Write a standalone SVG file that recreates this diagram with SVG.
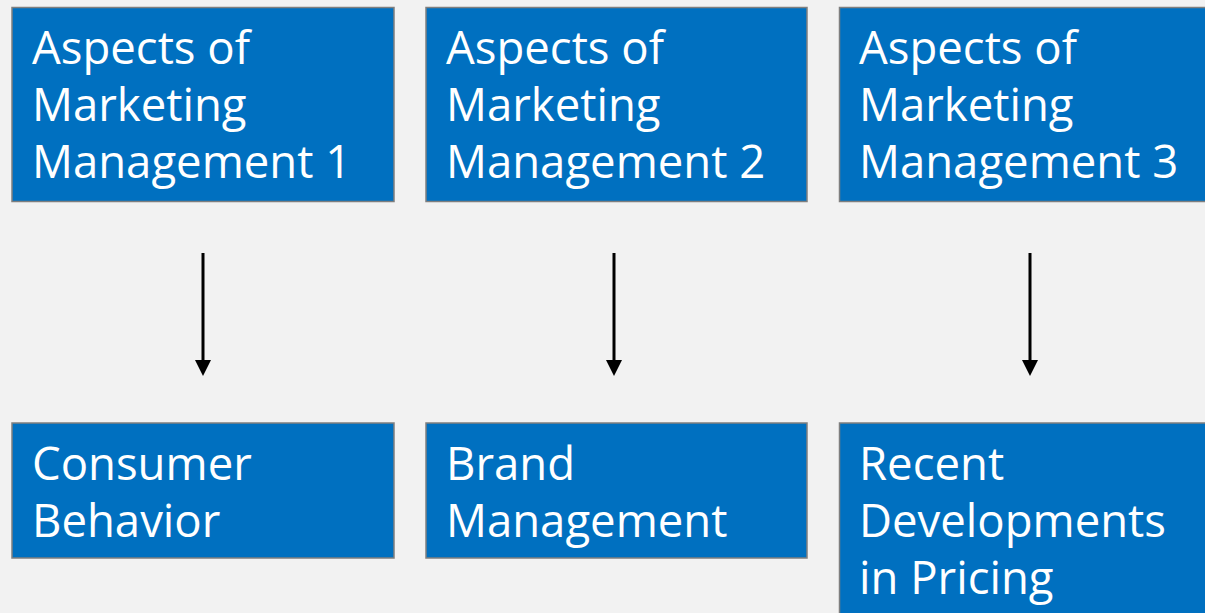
<svg xmlns="http://www.w3.org/2000/svg" width="1205" height="613" viewBox="0 0 1205 613">
<defs>
<style>
.box{fill:#0070C0;stroke:#7F7F7F;stroke-width:1.5}
.t{font-family:"Open Sans","Noto Sans","Liberation Sans",sans-serif;font-size:45.5px;fill:#FFFFFF}
.c{stroke:#000;stroke-width:3;fill:none}
</style>
<marker id="ah" viewBox="0 0 16 16" markerWidth="16" markerHeight="16" refX="0" refY="8" orient="auto" markerUnits="userSpaceOnUse">
<path d="M0,0 L16,8 L0,16 Z" fill="#000"/>
</marker>
</defs>
<rect width="1205" height="613" fill="#F2F2F2"/>
<g id="connectors">
<line class="c" x1="203" y1="253" x2="203" y2="360" marker-end="url(#ah)"/>
<line class="c" x1="614" y1="253" x2="614" y2="360" marker-end="url(#ah)"/>
<line class="c" x1="1030" y1="253" x2="1030" y2="360" marker-end="url(#ah)"/>
</g>
<g id="n1">
<rect class="box" x="12" y="7.5" width="382" height="194"/>
<text class="t" x="32" y="64">Aspects of</text>
<text class="t" x="32" y="121">Marketing</text>
<text class="t" x="32" y="178">Management 1</text>
</g>
<g id="n2">
<rect class="box" x="426" y="7.5" width="381" height="194"/>
<text class="t" x="446" y="64">Aspects of</text>
<text class="t" x="446" y="121">Marketing</text>
<text class="t" x="446" y="178">Management 2</text>
</g>
<g id="n3">
<rect class="box" x="839.5" y="7.5" width="381" height="194"/>
<text class="t" x="859" y="64">Aspects of</text>
<text class="t" x="859" y="121">Marketing</text>
<text class="t" x="859" y="178">Management 3</text>
</g>
<g id="n4">
<rect class="box" x="12" y="423" width="382" height="135"/>
<text class="t" x="32" y="480">Consumer</text>
<text class="t" x="32" y="537">Behavior</text>
</g>
<g id="n5">
<rect class="box" x="426" y="423" width="381" height="135"/>
<text class="t" x="446" y="480">Brand</text>
<text class="t" x="446" y="537">Management</text>
</g>
<g id="n6">
<rect class="box" x="839.5" y="423" width="381" height="200"/>
<text class="t" x="859" y="480">Recent</text>
<text class="t" x="859" y="537">Developments</text>
<text class="t" x="859" y="594">in Pricing</text>
</g>
</svg>
